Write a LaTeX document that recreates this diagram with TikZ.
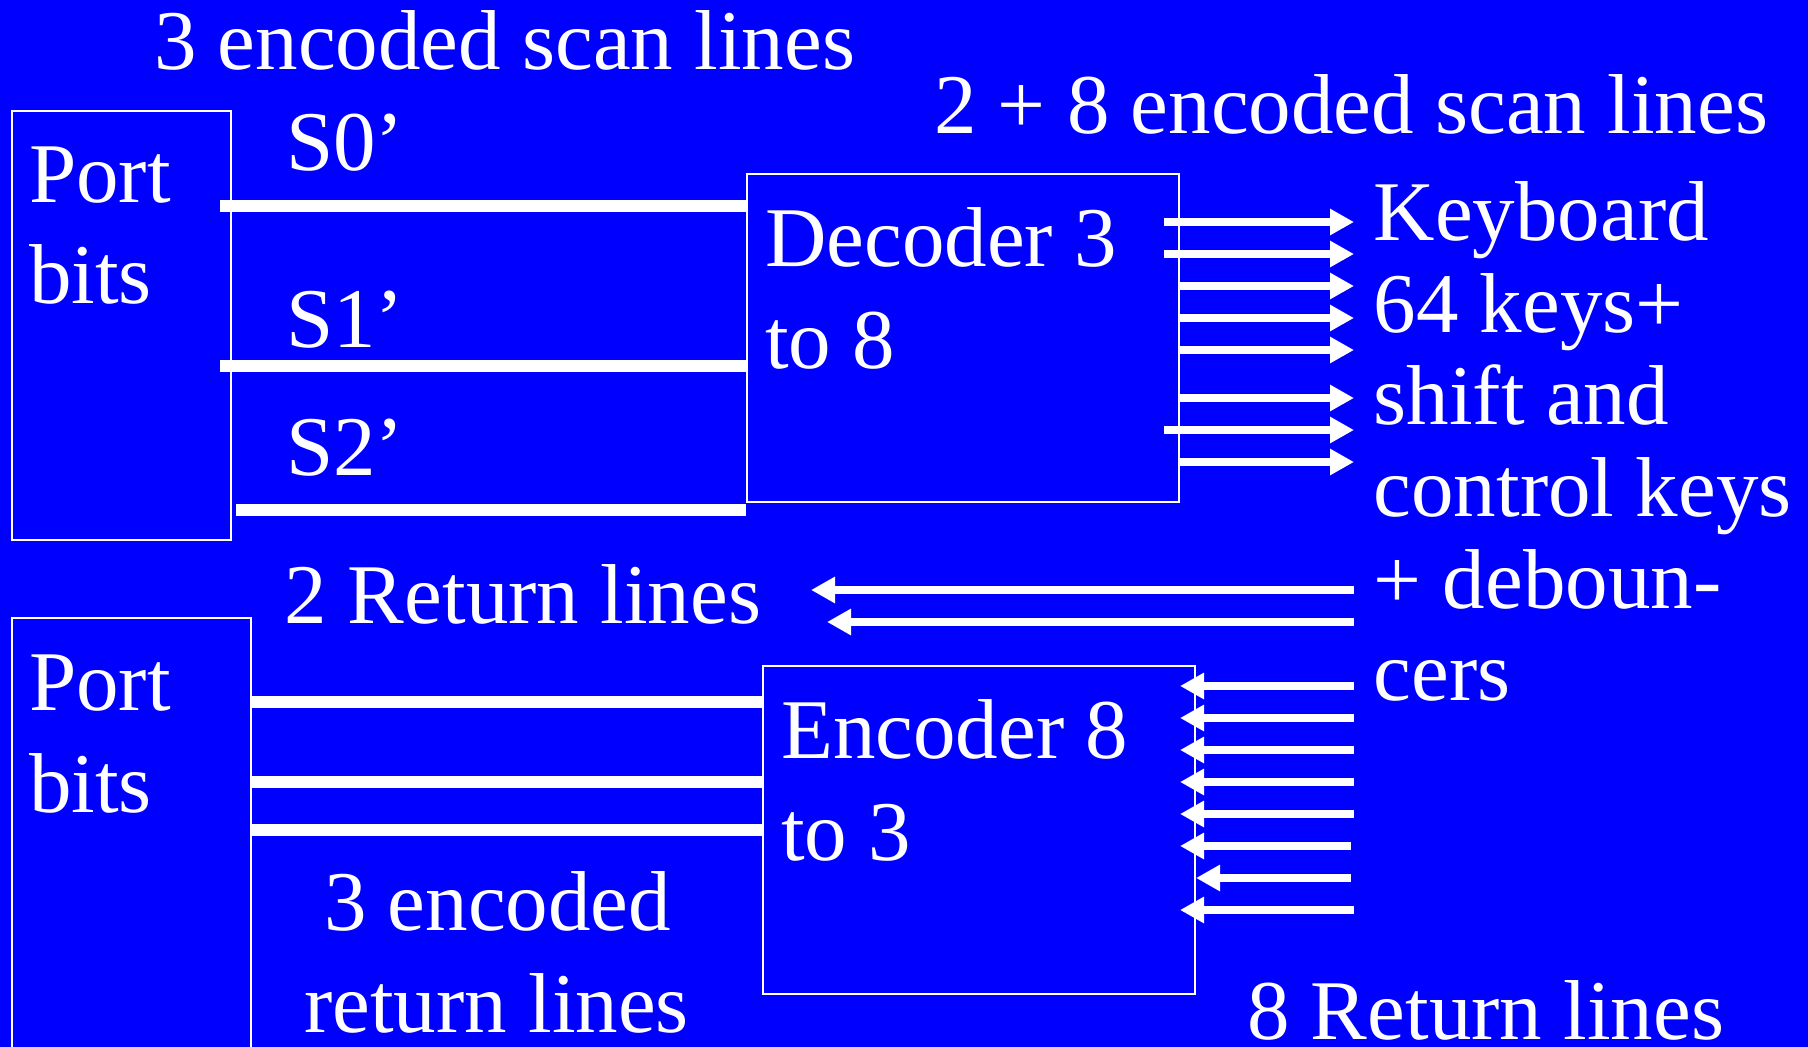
\documentclass[tikz,border=0pt]{standalone}
\usepackage{fontspec}
\setmainfont{Liberation Serif}
\usetikzlibrary{arrows.meta}
\definecolor{bg}{RGB}{0,0,255}
\begin{document}
\begin{tikzpicture}[x=1pt,y=-1pt,
  box/.style={draw=white, line width=2pt, rectangle, inner sep=0pt},
  lbl/.style={text=white, anchor=base west, inner sep=0pt, font=\fontsize{85}{100}\selectfont},
  bus/.style={draw=white, line width=12pt},
  sig/.style={draw=white, line width=8.5pt, -{Triangle[length=24pt,width=25pt]}},
]
\fill[bg] (0,0) rectangle (1808,1047);
\useasboundingbox (0,0) rectangle (1808,1047);
\clip (0,0) rectangle (1808,1047);

% boxes
\node[box, minimum width=219pt, minimum height=429pt] (portA) at (121,325) {};
\node[box, minimum width=239.5pt, minimum height=442pt] (portB) at (131.25,839) {};
\node[box, minimum width=432pt, minimum height=328pt] (decoder) at (963,338) {};
\node[box, minimum width=432pt, minimum height=328pt] (encoder) at (979,830) {};

\coordinate (kb) at (1354,0);
\coordinate (ret1) at (811,590);
\coordinate (ret2) at (827,622);

% texts
\node[lbl] (t1) at (154,69) {3 encoded scan lines};
\node[lbl] (t2) at (934,133) {2 + 8 encoded scan lines};
\node[lbl] (s0) at (286,170) {S0’};
\node[lbl] (s1) at (286,347) {S1’};
\node[lbl] (s2) at (286,475) {S2’};
\node[lbl] (pa1) at (29,202) {Port};
\node[lbl] (pa2) at (29,303) {bits};
\node[lbl] (d1) at (765,266) {Decoder 3};
\node[lbl] (d2) at (765,368) {to 8};
\node[lbl] (k1) at (1373.5,240) {Keyboard};
\node[lbl] (k2) at (1373.5,332) {64 keys+};
\node[lbl] (k3) at (1373.5,424) {shift and};
\node[lbl] (k4) at (1373.5,516) {control keys};
\node[lbl] (k5) at (1373.5,608) {+ deboun-};
\node[lbl] (k6) at (1373.5,700) {cers};
\node[lbl] (r2) at (284,623) {2 Return lines};
\node[lbl] (pb1) at (29,710) {Port};
\node[lbl] (pb2) at (29,812) {bits};
\node[lbl] (e1) at (781,758) {Encoder 8};
\node[lbl] (e2) at (781,860) {to 3};
\node[lbl] (c1) at (324,930) {3 encoded};
\node[lbl] (c2) at (304,1032) {return lines};
\node[lbl] (r8) at (1247,1039) {8 Return lines};

% scan buses
\draw[bus] ([xshift=-11.5pt]portA.east |- 0,205.5) -- (decoder.west |- 0,205.5);
\draw[bus] ([xshift=-11.5pt]portA.east |- 0,366) -- (decoder.west |- 0,366);
\draw[bus] ([xshift=4.5pt]portA.east |- 0,510) -- (decoder.west |- 0,510);

% return buses
\draw[bus] (portB.east |- 0,702) -- (encoder.west |- 0,702);
\draw[bus] (portB.east |- 0,782) -- (encoder.west |- 0,782);
\draw[bus] (portB.east |- 0,830) -- (encoder.west |- 0,830);

% decoder outputs
\draw[sig] ([xshift=-16pt]decoder.east |- 0,222) -- (kb |- 0,222);
\draw[sig] ([xshift=-16pt]decoder.east |- 0,254) -- (kb |- 0,254);
\draw[sig] (decoder.east |- 0,286) -- (kb |- 0,286);
\draw[sig] (decoder.east |- 0,318) -- (kb |- 0,318);
\draw[sig] (decoder.east |- 0,350) -- (kb |- 0,350);
\draw[sig] (decoder.east |- 0,398) -- (kb |- 0,398);
\draw[sig] ([xshift=-16pt]decoder.east |- 0,430) -- (kb |- 0,430);
\draw[sig] (decoder.east |- 0,462) -- (kb |- 0,462);

% two return lines
\draw[sig] (kb |- 0,590) -- (ret1);
\draw[sig] (kb |- 0,622) -- (ret2);

% encoder inputs
\draw[sig] (kb |- 0,686) -- ([xshift=-16pt]encoder.east |- 0,686);
\draw[sig] (kb |- 0,718) -- ([xshift=-16pt]encoder.east |- 0,718);
\draw[sig] (kb |- 0,750) -- ([xshift=-16pt]encoder.east |- 0,750);
\draw[sig] (kb |- 0,782) -- ([xshift=-16pt]encoder.east |- 0,782);
\draw[sig] (kb |- 0,814) -- ([xshift=-16pt]encoder.east |- 0,814);
\draw[sig] ([xshift=-3pt]kb |- 0,846) -- ([xshift=-16pt]encoder.east |- 0,846);
\draw[sig] ([xshift=-3pt]kb |- 0,878) -- (encoder.east |- 0,878);
\draw[sig] (kb |- 0,910) -- ([xshift=-16pt]encoder.east |- 0,910);
\end{tikzpicture}
\end{document}
